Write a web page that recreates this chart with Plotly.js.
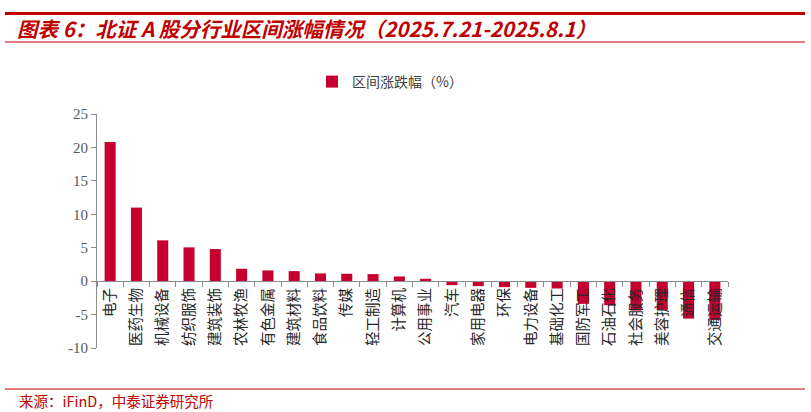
<!DOCTYPE html>
<html>
<head>
<meta charset="utf-8">
<script src="https://cdn.plot.ly/plotly-3.0.1.min.js"></script>
<style>
  html, body { margin: 0; padding: 0; background: #fff; }
  #chart { width: 811px; height: 412px; }
</style>
</head>
<body>
<div id="chart"></div>
<script>
const categories = ["电子","医药生物","机械设备","纺织服饰","建筑装饰","农林牧渔","有色金属","建筑材料","食品饮料","传媒","轻工制造","计算机","公用事业","汽车","家用电器","环保","电力设备","基础化工","国防军工","石油石化","社会服务","美容护理","通信","交通运输"];
const changePct = [20.8, 11.0, 6.1, 5.05, 4.8, 1.85, 1.6, 1.5, 1.15, 1.1, 1.05, 0.7, 0.35, -0.6, -0.75, -0.9, -1.0, -1.1, -3.4, -3.6, -4.4, -4.3, -5.6, -5.8];
const seriesName = "区间涨跌幅（%）";
const yTickVals = [-10, -5, 0, 5, 10, 15, 20, 25];
const yTickText = ["-10", "-5", "0", "5", "10", "15", "20", "25"];
const yRange = [-10, 25];
const titleText = "图表 6：北证 A 股分行业区间涨幅情况（2025.7.21-2025.8.1）";
const sourceText = "来源：iFinD，中泰证券研究所";

const red = "#C00000";
const barColor = "#C5002F";
const cjk = "'Noto Sans CJK SC', 'Noto Sans', sans-serif";
const serif = "'Liberation Serif', 'DejaVu Serif', 'Noto Sans CJK SC', serif";

const W = 811, H = 412;
const M = { l: 97, r: 83, t: 114, b: 64 };
const PW = W - M.l - M.r, PH = H - M.t - M.b;
const px = x => (x - M.l) / PW;          // pixel -> paper x
const py = y => (H - M.b - y) / PH;      // pixel -> paper y

const zeroPos = (0 - yRange[0]) / (yRange[1] - yRange[0]);

const trace = {
  type: "bar",
  x: categories,
  y: changePct,
  name: seriesName,
  marker: { color: barColor },
  showlegend: true
};

const layout = {
  width: W,
  height: H,
  margin: M,
  paper_bgcolor: "#fff",
  plot_bgcolor: "#fff",
  bargap: 0.58,
  showlegend: true,
  legend: {
    orientation: "h",
    x: px(390), xanchor: "center",
    y: py(82), yanchor: "middle",
    font: { family: cjk, size: 14, color: "#404040" },
    itemwidth: 30
  },
  xaxis: {
    type: "category",
    anchor: "free",
    position: zeroPos,
    showline: true,
    linecolor: "#8c8c8c",
    linewidth: 1,
    ticks: "outside",
    tickson: "boundaries",
    ticklen: 5,
    tickcolor: "#8c8c8c",
    tickangle: -90,
    tickfont: { family: cjk, size: 14.5, color: "#262626" },
    showgrid: false,
    zeroline: false
  },
  yaxis: {
    range: yRange,
    tickvals: yTickVals,
    ticktext: yTickText,
    showline: true,
    linecolor: "#8c8c8c",
    linewidth: 1,
    ticks: "outside",
    ticklen: 5,
    tickcolor: "#8c8c8c",
    tickfont: { family: serif, size: 15, color: "#595959" },
    showgrid: false,
    zeroline: false
  },
  shapes: [
    { type: "rect", xref: "paper", yref: "paper", x0: px(5), x1: px(805), y0: py(15), y1: py(12), fillcolor: red, line: { width: 0 } },
    { type: "line", xref: "paper", yref: "paper", x0: px(5), x1: px(805), y0: py(42), y1: py(42), line: { color: red, width: 1.2 } },
    { type: "line", xref: "paper", yref: "paper", x0: px(5), x1: px(805), y0: py(389), y1: py(389), line: { color: red, width: 1.2 } }
  ],
  annotations: [
    {
      xref: "paper", yref: "paper",
      x: px(15), y: py(28), xanchor: "left", yanchor: "middle",
      text: "<b><i>" + titleText + "</i></b>",
      showarrow: false,
      font: { family: cjk, size: 20.5, color: red }
    },
    {
      xref: "paper", yref: "paper",
      x: px(17), y: py(400), xanchor: "left", yanchor: "middle",
      text: sourceText,
      showarrow: false,
      font: { family: cjk, size: 14.5, color: red }
    }
  ]
};

Plotly.newPlot("chart", [trace], layout, { displayModeBar: false, staticPlot: true });
</script>
</body>
</html>
